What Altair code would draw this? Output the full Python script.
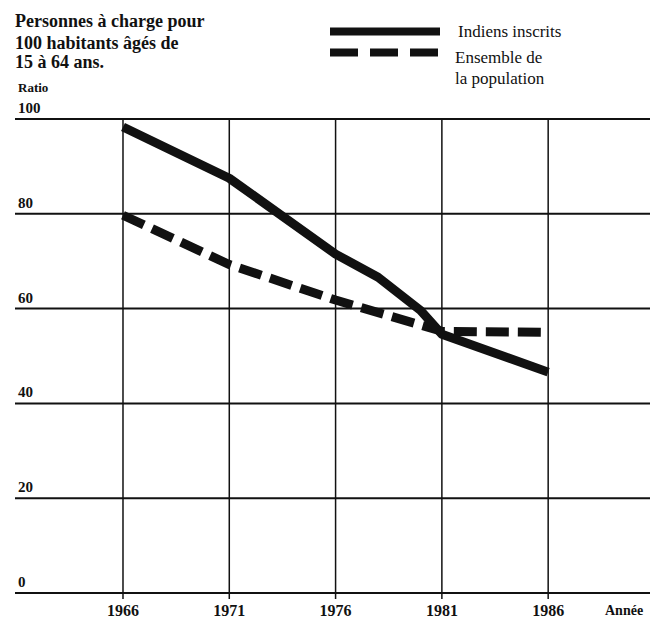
import altair as alt
import pandas as pd

# ---- data ----
ind_years = [1966, 1971, 1976, 1978, 1980, 1981, 1986]
ind_values = [98.3, 87.5, 71.5, 66.6, 59.6, 54.6, 46.6]
pop_years = [1966, 1971, 1976, 1981, 1986]
pop_values = [79.7, 69.3, 61.8, 55.2, 55.0]
y_ticks = [0, 20, 40, 60, 80, 100]
x_ticks = [1966, 1971, 1976, 1981, 1986]
title_lines = ["Personnes à charge pour", "100 habitants âgés de", "15 à 64 ans."]
y_title = "Ratio"
x_title = "Année"
legend_labels = ["Indiens inscrits", "Ensemble de", "la population"]

W, H = 635, 474
INK = "#111111"
FONT = "Liberation Serif"

ind_df = pd.DataFrame({"year": ind_years, "v": ind_values})
pop_df = pd.DataFrame({"year": pop_years, "v": pop_values})
yt_df = pd.DataFrame({"v": y_ticks, "label": [str(t) for t in y_ticks]})
xt_df = pd.DataFrame({"year": x_ticks, "label": [str(t) for t in x_ticks]})

xs = alt.Scale(domain=[1960.92, 1990.79], nice=False, zero=False)
ys = alt.Scale(domain=[0, 100], nice=False)
X = lambda f: alt.X(f, scale=xs, axis=None)
Y = lambda f: alt.Y(f, scale=ys, axis=None)

hgrid = alt.Chart(yt_df).mark_rule(color=INK, strokeWidth=2).encode(
    y=Y("v:Q"), x=alt.value(0), x2=alt.value(W)
)
vgrid = alt.Chart(xt_df).mark_rule(color=INK, strokeWidth=1.5).encode(
    x=X("year:Q"), y=alt.value(0), y2=alt.value(H + 6)
)
solid = alt.Chart(ind_df).mark_line(
    color=INK, strokeWidth=9, strokeCap="butt", strokeJoin="round"
).encode(x=X("year:Q"), y=Y("v:Q"))
dashed = alt.Chart(pop_df).mark_line(
    color=INK, strokeWidth=9, strokeCap="butt", strokeDash=[23, 9]
).encode(x=X("year:Q"), y=Y("v:Q"))

ylab = alt.Chart(yt_df).mark_text(
    align="left", baseline="alphabetic", dy=-6, font=FONT, fontSize=15,
    fontWeight="bold", color=INK
).encode(y=Y("v:Q"), x=alt.value(3), text="label:N")
xlab = alt.Chart(xt_df).mark_text(
    align="center", baseline="alphabetic", font=FONT, fontSize=16,
    fontWeight="bold", color=INK
).encode(x=X("year:Q"), y=alt.value(H + 23), text="label:N")

def txt(s, x, y, size, weight="bold"):
    return alt.Chart(pd.DataFrame({"t": [s]})).mark_text(
        align="left", baseline="alphabetic", font=FONT, fontSize=size,
        fontWeight=weight, color=INK
    ).encode(x=alt.value(x), y=alt.value(y), text="t:N")

texts = [
    txt(title_lines[0], 0, -92, 18),
    txt(title_lines[1], 0, -70, 18),
    txt(title_lines[2], 0, -51, 18),
    txt(y_title, 3, -27, 13),
    txt(x_title, 590, H + 22, 14),
    txt(legend_labels[0], 443, -82, 17, "normal"),
    txt(legend_labels[1], 440, -56, 17, "normal"),
    txt(legend_labels[2], 440, -35, 17, "normal"),
]

leg_solid = alt.Chart(pd.DataFrame({"k": [0]})).mark_rule(
    color=INK, strokeWidth=8, strokeCap="butt"
).encode(x=alt.value(315), x2=alt.value(425), y=alt.value(-87.5))
leg_dash = alt.Chart(pd.DataFrame({"k": [0]})).mark_rule(
    color=INK, strokeWidth=8, strokeCap="butt", strokeDash=[28, 12]
).encode(x=alt.value(315), x2=alt.value(425), y=alt.value(-66.5))

chart = alt.layer(
    hgrid, vgrid, dashed, solid, ylab, xlab, leg_solid, leg_dash, *texts
).properties(
    width=W, height=H,
    autosize=alt.AutoSizeParams(type="none"),
    padding={"left": 7, "top": 111, "right": 0, "bottom": 26},
    background="white",
).configure_view(stroke=None)

chart.save("out.html", embed_options={"renderer": "svg", "actions": False})
